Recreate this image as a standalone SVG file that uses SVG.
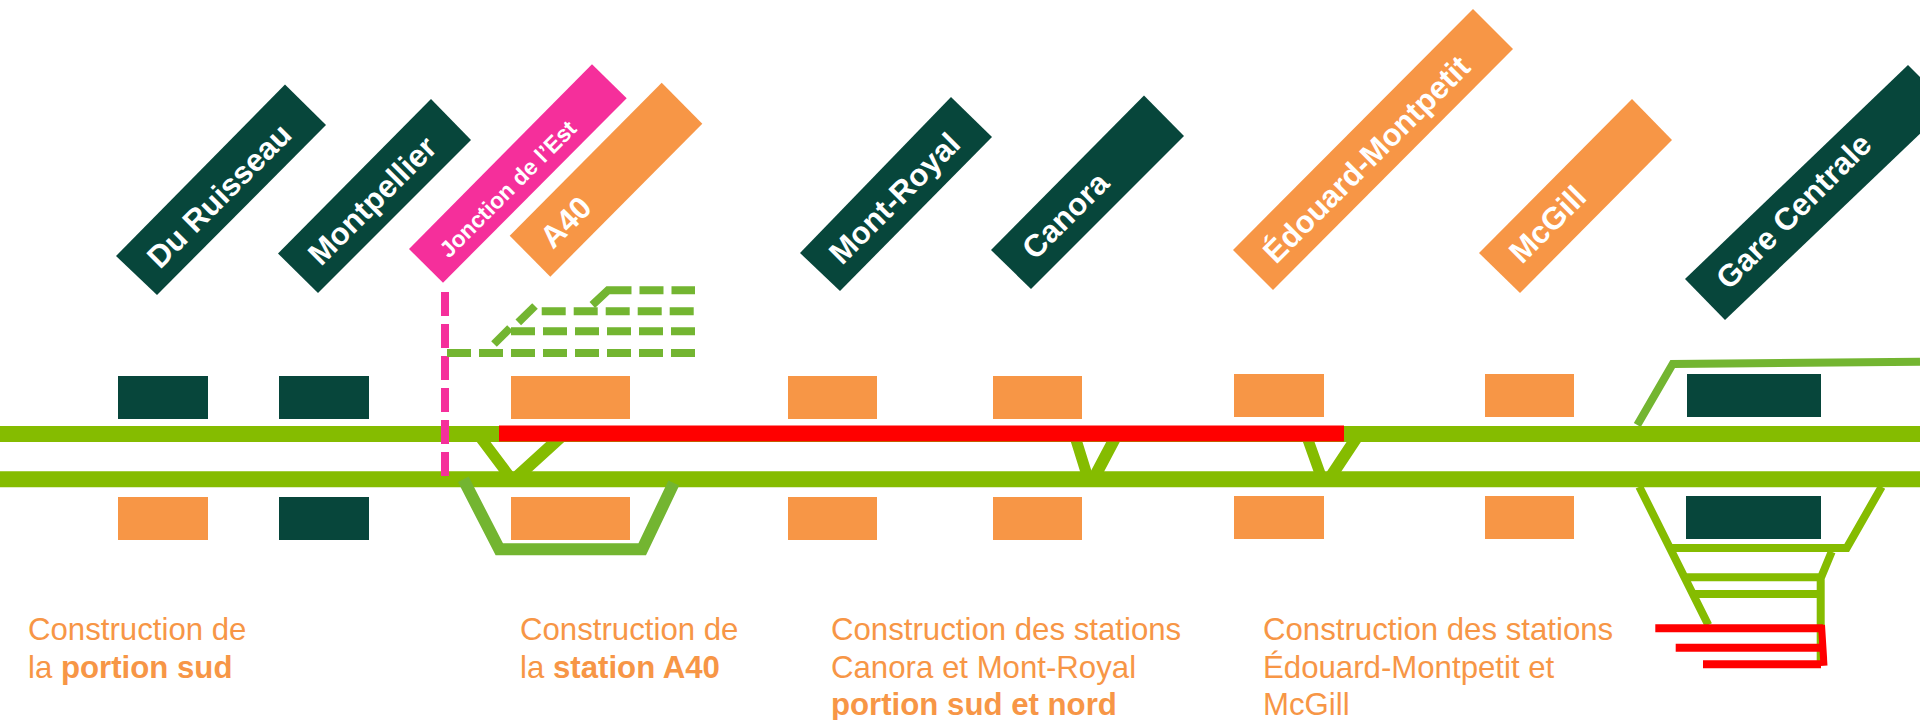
<svg xmlns="http://www.w3.org/2000/svg" width="1920" height="720" viewBox="0 0 1920 720">
<style>
.dk{fill:#07463B}.or{fill:#F79646}.pk{fill:#F52F9B}
.lb{font-family:"Liberation Sans",Arial,sans-serif;font-weight:700;font-size:31.2px;fill:#fff}
.cap{font-family:"Liberation Sans",Arial,sans-serif;font-size:31.2px;fill:#F79646}
.cap tspan.b{font-weight:700}
.tr{fill:none;stroke:#85BC00}
.lt{fill:none;stroke:#73B531}
.da{fill:none;stroke:#73B531;stroke-width:8}
.rd{fill:none;stroke:#FF0000}
</style>
<rect width="1920" height="720" fill="#fff"/>
<g id="station-boxes">
<rect class="dk" x="118" y="376" width="90" height="43"/><rect class="or" x="118" y="497" width="90" height="43"/>
<rect class="dk" x="279" y="376" width="90" height="43"/><rect class="dk" x="279" y="497" width="90" height="43"/>
<rect class="or" x="511" y="376" width="119" height="43"/><rect class="or" x="511" y="497" width="119" height="43"/>
<rect class="or" x="788" y="376" width="89" height="43"/><rect class="or" x="788" y="497" width="89" height="43"/>
<rect class="or" x="993" y="376" width="89" height="43"/><rect class="or" x="993" y="497" width="89" height="43"/>
<rect class="or" x="1234" y="374" width="90" height="43"/><rect class="or" x="1234" y="496" width="90" height="43"/>
<rect class="or" x="1485" y="374" width="89" height="43"/><rect class="or" x="1485" y="496" width="89" height="43"/>
<rect class="dk" x="1687" y="374" width="134" height="43"/><rect class="dk" x="1686" y="496" width="135" height="43"/>
</g>
<g id="connectors">
<path class="tr" stroke-width="11" d="M477.7 434L511.7 479.3M1074.2 434L1088.2 479M1305.9 434L1322 479"/>
<path class="tr" stroke-width="12" d="M564 434L514 479.5M1117.2 434L1093.3 479.3M1359 434L1329.2 479"/>
<path class="tr" stroke-width="16" d="M0 434H1920M0 479.3H1920"/>
<path class="rd" stroke-width="16" d="M499 433.5H1344"/>
<path class="lt" stroke-width="12" d="M463.3 479.3L499.3 549.3H642.2L673.8 483"/>
<path class="lt" stroke-width="8" d="M1637.3 425L1672.7 364L1920 361.7"/>
<path class="tr" stroke-width="8" d="M1639.3 486.7L1708.3 625M1881.7 486.7L1846.7 548H1671.7M1831.7 551.7L1820.7 578.3V665M1686.7 577.3H1820.7M1695 594H1820.7"/>
<path class="rd" stroke-width="8" d="M1655.3 628.3H1823M1675.7 647.7H1823M1703 664.3H1821"/>
<path class="rd" stroke-width="7" d="M1821.5 625L1824 665.7"/>
<path fill="none" stroke="#F52F9B" stroke-width="8" stroke-dasharray="24 8" d="M445 292V476"/>
<path class="da" stroke-dasharray="24 8" d="M447 353H695"/>
<path class="da" stroke-dasharray="24 8" d="M511 331.3H695"/>
<path class="da" d="M494 344L510 328"/>
<path class="da" stroke-dasharray="24 8" d="M541.7 311.3H694"/>
<path class="da" d="M518.3 322.3L535 306"/>
<path class="da" stroke-dasharray="45 8 24 8 24 8" d="M592.3 305L608 290.3H695"/>
</g>
<g id="du-ruisseau"><polygon class="dk" points="116,256 285,84.5 326,125 157,295"/><text class="lb" transform="translate(160,270) rotate(-45)">Du Ruisseau</text></g>
<g id="montpellier"><polygon class="dk" points="278,253.5 431,99 471,140 318,293"/><text class="lb" transform="translate(321,267) rotate(-45)">Montpellier</text></g>
<g id="jonction"><polygon class="pk" points="409,249 592,64.3 626.7,98.3 443,282.7"/><text class="lb" style="font-size:22.8px" transform="translate(449,259) rotate(-45)">Jonction de l’Est</text></g>
<g id="a40"><polygon class="or" points="509.7,235.7 661.7,82.7 702.3,123.7 550.3,276.7"/><text class="lb" transform="translate(553,250) rotate(-45)">A40</text></g>
<g id="mont-royal"><polygon class="dk" points="800,253 951,97 992,137 840,291"/><text class="lb" transform="translate(842,266) rotate(-45)">Mont-Royal</text></g>
<g id="canora"><polygon class="dk" points="991,250 1144,95.5 1184,136 1031,289"/><text class="lb" transform="translate(1035,261) rotate(-45)">Canora</text></g>
<g id="edouard"><polygon class="or" points="1233,250 1473,9 1513,49 1273,290"/><text class="lb" transform="translate(1276,265) rotate(-45)">Édouard-Montpetit</text></g>
<g id="mcgill"><polygon class="or" points="1479,253 1632,99 1672,140 1520,293"/><text class="lb" transform="translate(1522,265) rotate(-45)">McGill</text></g>
<g id="gare-centrale"><polygon class="dk" points="1685,279 1908,65 1949,106 1725,320"/><text class="lb" transform="translate(1729,291) rotate(-45)">Gare Centrale</text></g>
<g id="captions">
<text class="cap" x="28" y="640">Construction de</text>
<text class="cap" x="28" y="678">la <tspan class="b">portion sud</tspan></text>
<text class="cap" x="520" y="640">Construction de</text>
<text class="cap" x="520" y="678">la <tspan class="b">station A40</tspan></text>
<text class="cap" x="831" y="640">Construction des stations</text>
<text class="cap" x="831" y="678">Canora et Mont-Royal</text>
<text class="cap" x="831" y="715"><tspan class="b">portion sud et nord</tspan></text>
<text class="cap" x="1263" y="640">Construction des stations</text>
<text class="cap" x="1263" y="678">Édouard-Montpetit et</text>
<text class="cap" x="1263" y="715">McGill</text>
</g>
</svg>
